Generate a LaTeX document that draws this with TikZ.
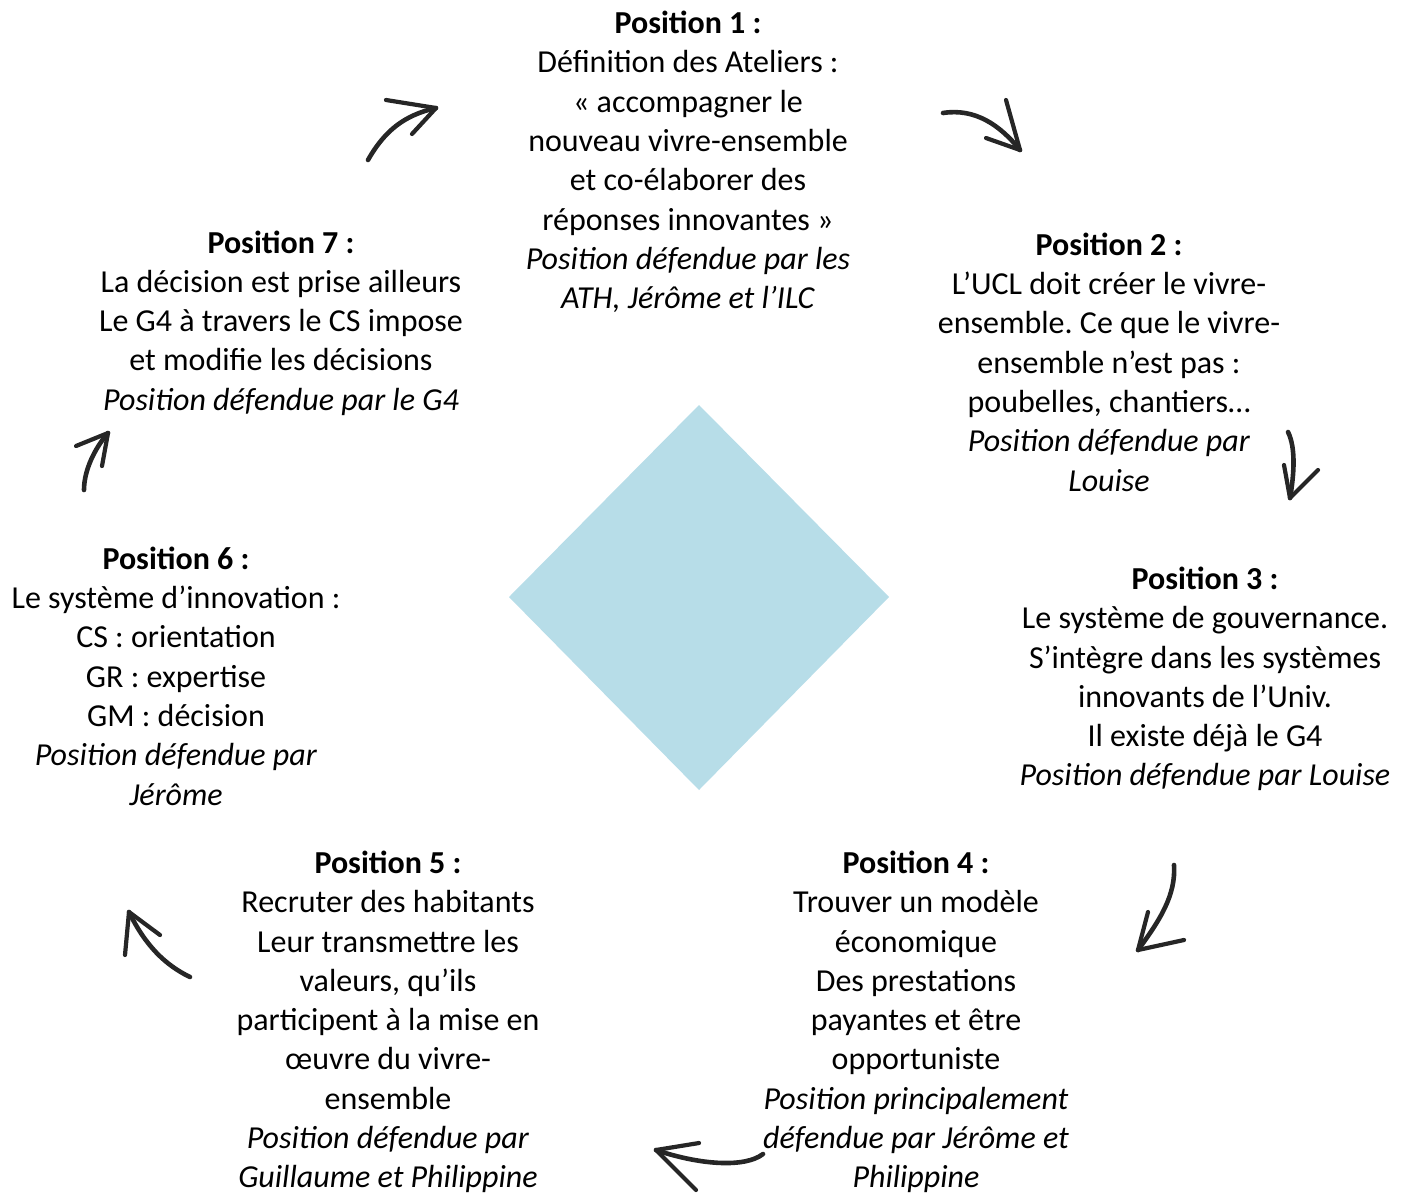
\documentclass[tikz,border=0pt]{standalone}
\usepackage{fontspec}
\setmainfont{Carlito}
\frenchspacing
\begin{document}
\begin{tikzpicture}[x=1pt,y=-1pt,
  txt/.style={align=center,inner sep=0pt,font=\fontsize{32}{39.3}\selectfont},
  brush/.style={line width=4.6pt,line cap=round,line join=round,color=black!85},
  barb/.style={line width=4.2pt,line cap=round,color=black!85}]
\useasboundingbox (0,0) rectangle (1410,1194);
% diamond
\fill[fill={rgb,255:red,183;green,221;blue,232}] (699,405) coordinate (dt) -- (889,597) -- (699,790) -- (509,597) -- cycle;
% text blocks
\node[txt] (p1) at (688,162) {\textbf{Position 1 :}\\Définition des Ateliers :\\« accompagner le\\nouveau vivre-ensemble\\et co-élaborer des\\réponses innovantes »\\\textit{Position défendue par les}\\\textit{ATH, Jérôme et l’ILC}};
\node[txt] (p2) at (1109,362) {\textbf{Position 2 :}\\L’UCL doit créer le vivre-\\ensemble. Ce que le vivre-\\ensemble n’est pas :\\poubelles, chantiers…\\\textit{Position défendue par}\\\textit{Louise}};
\node[txt] (p3) at (1205,679) {\textbf{Position 3 :}\\Le système de gouvernance.\\S’intègre dans les systèmes\\innovants de l’Univ.\\Il existe déjà le G4\\\textit{Position défendue par Louise}};
\node[txt] (p4) at (916,1022) {\textbf{Position 4 :}\\Trouver un modèle\\économique\\Des prestations\\payantes et être\\opportuniste\\\textit{Position principalement}\\\textit{défendue par Jérôme et}\\\textit{Philippine}};
\node[txt] (p5) at (388,1022) {\textbf{Position 5 :}\\Recruter des habitants\\Leur transmettre les\\valeurs, qu’ils\\participent à la mise en\\œuvre du vivre-\\ensemble\\\textit{Position défendue par}\\\textit{Guillaume et Philippine}};
\node[txt] (p6) at (176,676) {\textbf{Position 6 :}\\Le système d’innovation :\\CS : orientation\\GR : expertise\\GM : décision\\\textit{Position défendue par}\\\textit{Jérôme}};
\node[txt] (p7) at (281,323) {\textbf{Position 7 :}\\La décision est prise ailleurs\\Le G4 à travers le CS impose\\et modifie les décisions\\\textit{Position défendue par le G4}};
% arrows (brush style)
% A1: 7 -> 1
\coordinate (a1s) at (368,160); \coordinate (a1t) at (436,108);
\draw[brush] (a1s) .. controls (385,130) and (405,115) .. (a1t);
\draw[barb] (a1t) -- (386,100);
\draw[barb] (a1t) -- (412,134);
% A2: 1 -> 2
\coordinate (a2s) at (943,113); \coordinate (a2t) at (1020,150);
\draw[brush] (a2s) .. controls (975,108) and (1000,125) .. (a2t);
\draw[barb] (a2t) -- (1006,100);
\draw[barb] (a2t) -- (986,138);
% A3: 2 -> 3
\coordinate (a3s) at (1288,432); \coordinate (a3t) at (1290,498);
\draw[brush] (a3s) .. controls (1296,448) and (1294,475) .. (a3t);
\draw[barb] (a3t) -- (1284,465);
\draw[barb] (a3t) -- (1318,470);
% A4: 3 -> 4
\coordinate (a4s) at (1174,865); \coordinate (a4t) at (1138,950);
\draw[brush] (a4s) .. controls (1176,895) and (1160,920) .. (a4t);
\draw[barb] (a4t) -- (1148,912);
\draw[barb] (a4t) -- (1184,940);
% A5: 4 -> 5
\coordinate (a5s) at (763,1154); \coordinate (a5t) at (656,1150);
\draw[brush] (a5s) .. controls (745,1168) and (700,1165) .. (a5t);
\draw[barb] (a5t) -- (699,1143);
\draw[barb] (a5t) -- (696,1190);
% A6: 5 -> 6
\coordinate (a6s) at (190,977); \coordinate (a6t) at (129,912);
\draw[brush] (a6s) .. controls (165,965) and (145,945) .. (a6t);
\draw[barb] (a6t) -- (125,955);
\draw[barb] (a6t) -- (160,935);
% A7: 6 -> 7
\coordinate (a7s) at (84,490); \coordinate (a7t) at (108,433);
\draw[brush] (a7s) .. controls (84,470) and (95,448) .. (a7t);
\draw[barb] (a7t) -- (76,446);
\draw[barb] (a7t) -- (102,466);
\end{tikzpicture}
\end{document}
